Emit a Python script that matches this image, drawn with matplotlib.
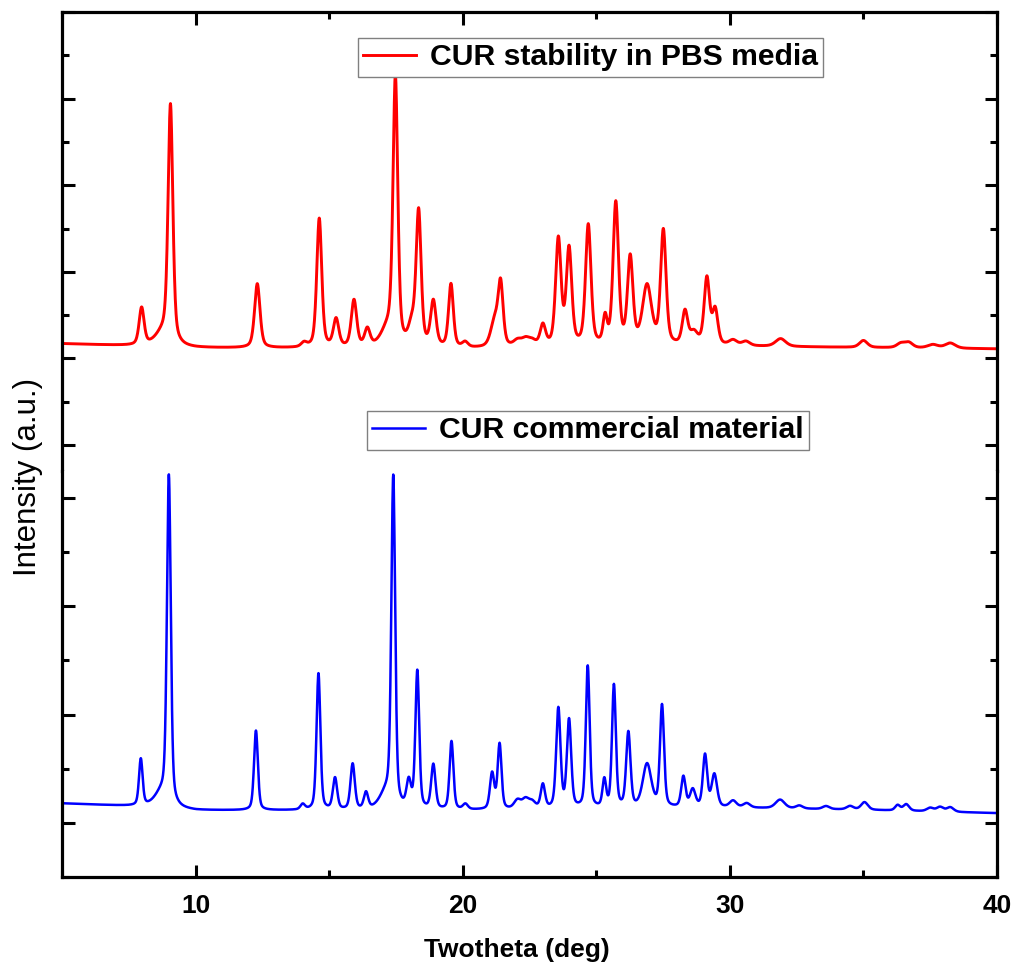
import numpy as np
import matplotlib
matplotlib.use("Agg")
import matplotlib.pyplot as plt
from matplotlib.ticker import MultipleLocator

plt.rcParams['font.family'] = ['Liberation Sans', 'DejaVu Sans']

# peak lists: 2theta (deg), height (a.u.), fwhm (deg)
pbs_pos = [7.98, 8.8, 9.06, 12.31, 14.06, 14.63, 15.26, 15.93, 16.43, 17.2, 17.48,
           18.1, 18.35, 18.9, 19.56, 20.09, 21.2, 21.42, 22.05, 22.35, 22.6, 23.0,
           23.58, 23.98, 24.7, 25.33, 25.73, 26.27, 26.9, 27.51, 28.32, 28.65,
           29.14, 29.45, 30.12, 30.6, 31.9, 35.0, 36.4, 36.7, 37.6, 38.25]
pbs_height = [430, 150, 2710, 740, 50, 1490, 320, 540, 200, 200, 3030,
              230, 1540, 520, 730, 60, 300, 690, 70, 80, 60, 240,
              1230, 1110, 1390, 300, 1640, 1000, 680, 1320, 380, 140,
              770, 400, 60, 50, 90, 80, 50, 60, 40, 60]
pbs_fwhm = [0.22, 0.7, 0.21, 0.24, 0.25, 0.22, 0.24, 0.24, 0.24, 0.6, 0.21,
            0.3, 0.22, 0.24, 0.21, 0.25, 0.35, 0.22, 0.35, 0.35, 0.35, 0.24,
            0.24, 0.24, 0.24, 0.18, 0.24, 0.24, 0.4, 0.24, 0.24, 0.35,
            0.24, 0.24, 0.35, 0.35, 0.45, 0.35, 0.35, 0.35, 0.45, 0.45]
pbs_base_x = [5, 10, 20, 30, 40]
pbs_base_y = [1170, 1120, 1110, 1140, 1110]

com_pos = [7.95, 8.75, 9.0, 12.26, 14.01, 14.6, 15.22, 15.88, 16.38, 17.15, 17.4,
           17.98, 18.3, 18.9, 19.58, 20.1, 21.1, 21.38, 22.05, 22.35, 22.6, 23.0,
           23.58, 23.98, 24.68, 25.3, 25.66, 26.2, 26.9, 27.46, 28.26, 28.61,
           29.07, 29.42, 30.12, 30.63, 31.88, 32.6, 33.6, 34.5, 35.04, 36.28,
           36.6, 37.5, 37.87, 38.25]
com_height = [430, 130, 3000, 735, 50, 1260, 290, 420, 150, 150, 3000,
              240, 1270, 410, 630, 50, 330, 600, 80, 85, 60, 220,
              920, 810, 1310, 250, 1130, 690, 400, 940, 280, 160,
              480, 300, 60, 40, 80, 28, 28, 32, 70, 50,
              60, 32, 42, 42]
com_fwhm = [0.16, 0.65, 0.17, 0.17, 0.2, 0.17, 0.19, 0.19, 0.19, 0.6, 0.17,
            0.2, 0.17, 0.19, 0.17, 0.22, 0.19, 0.17, 0.3, 0.3, 0.3, 0.19,
            0.19, 0.19, 0.17, 0.16, 0.17, 0.19, 0.38, 0.18, 0.19, 0.24,
            0.19, 0.24, 0.3, 0.3, 0.4, 0.3, 0.3, 0.3, 0.3, 0.22,
            0.26, 0.3, 0.3, 0.3]
com_base_x = [5, 8, 10, 20, 30, 35, 40]
com_base_y = [180, 150, 115, 115, 140, 120, 90]

xticks = [10, 20, 30, 40]


def pattern(x, pos, height, fwhm, bx, by, eta):
    # pseudo-Voigt peaks on top of the read background
    y = np.interp(x, bx, by).astype(float)
    for p, h, w in zip(pos, height, fwhm):
        d = (x - p) / (w / 2)
        g = np.exp(-np.log(2) * d ** 2)
        l = 1 / (1 + d ** 2)
        y += h * (eta * l + (1 - eta) * g)
    return y


tt = np.arange(5, 40.001, 0.01)
y_pbs = pattern(tt, pbs_pos, pbs_height, pbs_fwhm, pbs_base_x, pbs_base_y, 0.45)
y_com = pattern(tt, com_pos, com_height, com_fwhm, com_base_x, com_base_y, 0.4)

W, H = 1017, 968
fig = plt.figure(figsize=(W / 100, H / 100), dpi=100)
x0, x1 = 62 / W, 997 / W
ax_top = fig.add_axes([x0, 1 - 471 / H, x1 - x0, (471 - 12) / H])
ax_bot = fig.add_axes([x0, 1 - 877 / H, x1 - x0, (877 - 471) / H])

ax_top.plot(tt, y_pbs, color='#ff0000', lw=2.1, label='CUR stability in PBS media')
ax_bot.plot(tt, y_com, color='#0000ff', lw=1.8, label='CUR commercial material')

ax_top.set_ylim(-300, 5000)
ax_bot.set_ylim(-500, 3250)

for ax in (ax_top, ax_bot):
    ax.set_xlim(5, 40)
    ax.xaxis.set_major_locator(MultipleLocator(10))
    ax.xaxis.set_minor_locator(MultipleLocator(5))
    ax.yaxis.set_major_locator(MultipleLocator(1000))
    ax.yaxis.set_minor_locator(MultipleLocator(500))
    ax.tick_params(which='both', direction='in', width=2.2, left=True, right=True,
                   labelleft=False, labelright=False)
    ax.tick_params(which='major', length=9)
    ax.tick_params(which='minor', length=5)
    for s in ax.spines.values():
        s.set_linewidth(2.3)

ax_top.spines['bottom'].set_visible(False)
ax_top.tick_params(which='both', top=True, bottom=False, labelbottom=False)
ax_bot.spines['top'].set_visible(False)
ax_bot.tick_params(which='both', top=False, bottom=True)
ax_bot.set_xticks(xticks)
ax_bot.set_xticklabels([str(v) for v in xticks], fontsize=19, fontweight='bold')
ax_bot.tick_params(axis='x', pad=12)

fig.text(517 / W, 1 - 950 / H, 'Twotheta (deg)', fontsize=19, fontweight='bold',
         ha='center', va='center')
fig.text(28 / W, 1 - 477 / H, 'Intensity (a.u.)', fontsize=22.5, rotation=90,
         ha='center', va='center')

leg_kw = dict(loc='upper left', fancybox=False, edgecolor='#808080', framealpha=1,
              borderpad=0.18, handlelength=1.75, handletextpad=0.45, borderaxespad=0,
              prop={'size': 21.7, 'weight': 'bold'})
l1 = ax_top.legend(bbox_to_anchor=(358 / W, 1 - 38 / H), bbox_transform=fig.transFigure, **leg_kw)
l2 = ax_bot.legend(bbox_to_anchor=(367 / W, 1 - 411 / H), bbox_transform=fig.transFigure, **leg_kw)
for lg in (l1, l2):
    lg.get_frame().set_linewidth(1.0)

fig.savefig('out.png', dpi=100)
